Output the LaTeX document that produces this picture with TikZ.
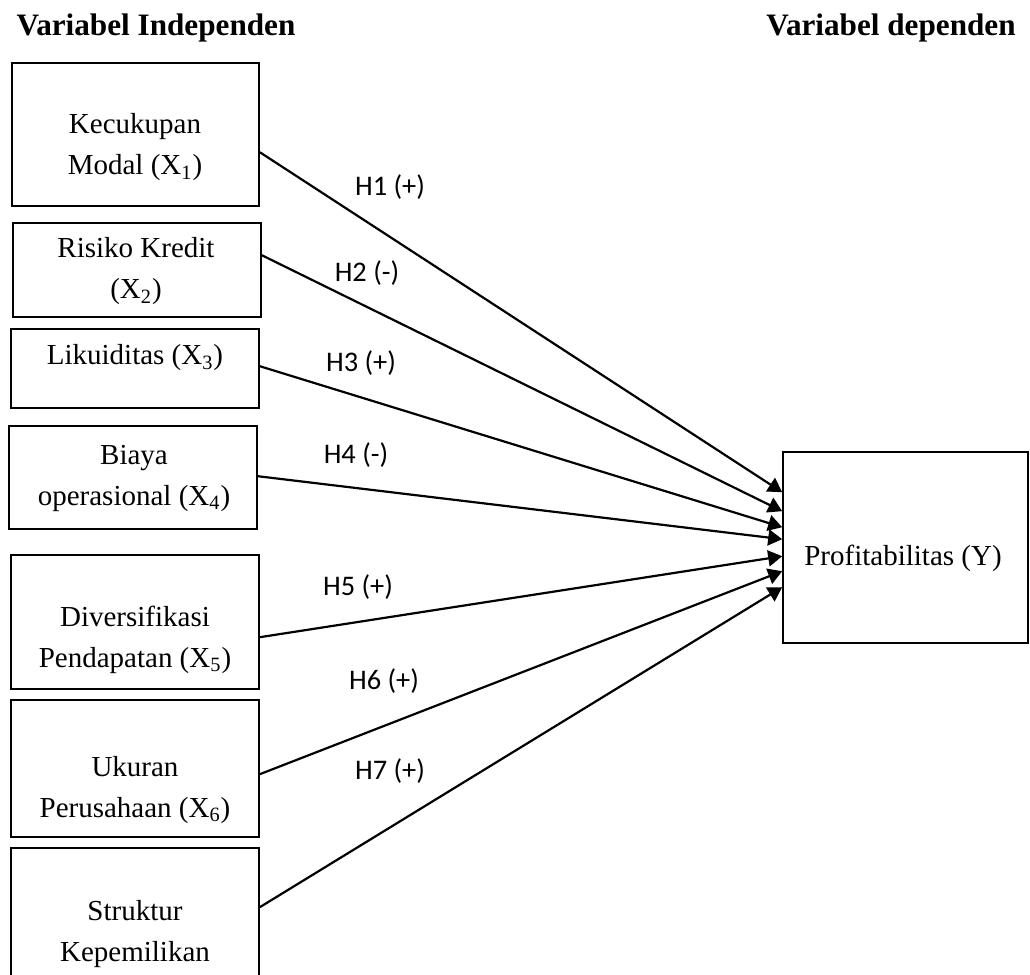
\documentclass[tikz,border=0pt]{standalone}
\usepackage{fontspec}
\setmainfont{Liberation Serif}
\newfontfamily\lblfont{Carlito}
\usetikzlibrary{arrows.meta,fit,calc}
\begin{document}
\begin{tikzpicture}[x=0.5pt,y=-0.5pt,
  varbox/.style={draw,line width=0.8pt,inner sep=0pt},
  vartext/.style={align=center,inner sep=0pt,font=\fontsize{14.5}{20.5}\selectfont},
  heading/.style={inner sep=0pt,font=\fontsize{15.6}{18}\selectfont\bfseries},
  hyp/.style={inner sep=0pt,font=\lblfont\fontsize{14.2}{16}\selectfont},
  link/.style={line width=1.1pt,-{Triangle[length=7pt,width=8pt]}}]
\clip (0,0) rectangle (1030,975);
\fill[white] (0,0) rectangle (1030,975);
% headings
\node[heading] (hi) at (156,28) {Variabel Independen};
\node[heading] (hd) at (891,28) {Variabel dependen};
% box corners
\coordinate (a1) at (12,63);  \coordinate (c1) at (259,206);
\coordinate (a2) at (13,223); \coordinate (c2) at (261,317);
\coordinate (a3) at (11,329); \coordinate (c3) at (259,408);
\coordinate (a4) at (9,426);  \coordinate (c4) at (257,529);
\coordinate (a5) at (11,555); \coordinate (c5) at (259,689);
\coordinate (a6) at (11,700); \coordinate (c6) at (259,837);
\coordinate (a7) at (11,848); \coordinate (c7) at (259,1010);
\coordinate (ay) at (783,452); \coordinate (cy) at (1028,643);
\node[varbox,fit=(a1)(c1)] (b1) {};
\node[varbox,fit=(a2)(c2)] (b2) {};
\node[varbox,fit=(a3)(c3)] (b3) {};
\node[varbox,fit=(a4)(c4)] (b4) {};
\node[varbox,fit=(a5)(c5)] (b5) {};
\node[varbox,fit=(a6)(c6)] (b6) {};
\node[varbox,fit=(a7)(c7)] (b7) {};
\node[varbox,fit=(ay)(cy)] (y) {};
% texts
\node[vartext] (t1) at (135,147.5) {Kecukupan\\Modal (X\textsubscript{1})};
\node[vartext] (t2) at (136,271.5) {Risiko Kredit\\(X\textsubscript{2})};
\node[vartext] (t3) at (135,358) {Likuiditas (X\textsubscript{3})};
\node[vartext] (t4) at (134,478.5) {Biaya\\operasional (X\textsubscript{4})};
\node[vartext] (t5) at (135,640) {Diversifikasi\\Pendapatan (X\textsubscript{5})};
\node[vartext] (t6) at (135,790) {Ukuran\\Perusahaan (X\textsubscript{6})};
\node[vartext] (t7) at (135,934) {Struktur\\Kepemilikan};
\node[vartext] (ty) at (903,558) {Profitabilitas (Y)};
% connectors
\draw[link] ([yshift=-45pt]b1.north east) -- ([yshift=-20.5pt]y.north west);
\draw[link] ([yshift=-16.5pt]b2.north east) -- ([yshift=-30pt]y.north west);
\draw[link] ([yshift=-19pt]b3.north east) -- ([yshift=-38pt]y.north west);
\draw[link] ([yshift=-25.5pt]b4.north east) -- ([yshift=-44pt]y.north west);
\draw[link] ([yshift=-41.5pt]b5.north east) -- ([yshift=-52.5pt]y.north west);
\draw[link] ([yshift=-37.5pt]b6.north east) -- ([yshift=-60pt]y.north west);
\draw[link] ([yshift=-30pt]b7.north east) -- ([yshift=-68pt]y.north west);
% labels
\node[hyp] (h1) at (390,187) {H1 (+)};
\node[hyp] (h2) at (367,273) {H2 (-)};
\node[hyp] (h3) at (361,363) {H3 (+)};
\node[hyp] (h4) at (356,455) {H4 (-)};
\node[hyp] (h5) at (358,587) {H5 (+)};
\node[hyp] (h6) at (384,681) {H6 (+)};
\node[hyp] (h7) at (390,771) {H7 (+)};
\end{tikzpicture}
\end{document}
